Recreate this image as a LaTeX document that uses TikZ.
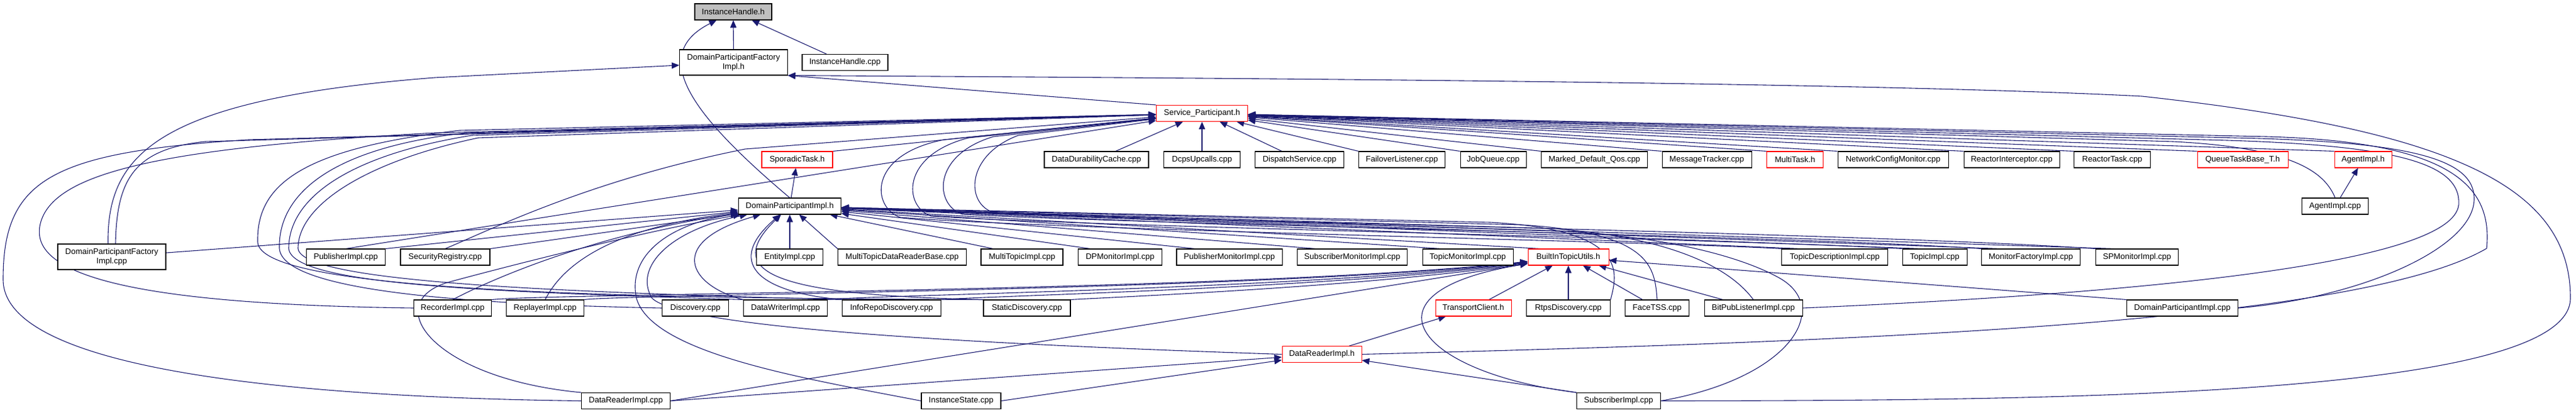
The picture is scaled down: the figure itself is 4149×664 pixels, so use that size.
\documentclass[tikz,border=0pt]{standalone}
\usepackage{fontspec}
\setmainfont{Liberation Sans}
\usetikzlibrary{arrows.meta}
\definecolor{edgeblue}{HTML}{191970}
\definecolor{rootgray}{HTML}{BFBFBF}
\pgfdeclarelayer{paper}
\pgfdeclarelayer{edges}
\pgfsetlayers{paper,edges,main}
\tikzset{
  filebox/.style={draw=black, line width=1.05pt, fill=white, minimum height=26pt, inner sep=0pt, align=center, font=\fontsize{13}{15}\selectfont},
  redbox/.style={filebox, draw=red},
  rootbox/.style={filebox, fill=rootgray},
  dep/.style={->, draw=edgeblue, line width=1.1pt}
}
\begin{document}
\begin{tikzpicture}[x=1pt, y=-1pt, >={Triangle[length=12pt,width=10pt]}]
\begin{pgfonlayer}{paper}
\fill[white] (0,0) rectangle (4149,664);
\end{pgfonlayer}
\useasboundingbox (0,0) rectangle (4149,664);

% headers and sources
\node[rootbox, minimum width=124pt] (ih) at (1181,19) {InstanceHandle.h};
\node[filebox, minimum width=174pt, minimum height=41pt] (dpfh) at (1181.5,100.5) {DomainParticipantFactory\\Impl.h};
\node[filebox, minimum width=138pt] (ihcpp) at (1361,100.5) {InstanceHandle.cpp};
\node[redbox, minimum width=147pt] (sph) at (1936,182.5) {Service\_Participant.h};

\node[redbox, minimum width=114pt] (spor) at (1284,257) {SporadicTask.h};
\node[filebox, minimum width=168pt] (ddc) at (1766,257) {DataDurabilityCache.cpp};
\node[filebox, minimum width=123pt] (dcps) at (1936,257) {DcpsUpcalls.cpp};
\node[filebox, minimum width=143pt] (disp) at (2093,257) {DispatchService.cpp};
\node[filebox, minimum width=139pt] (fail) at (2258,257) {FailoverListener.cpp};
\node[filebox, minimum width=106pt] (jobq) at (2405,257) {JobQueue.cpp};
\node[filebox, minimum width=171pt] (mdq) at (2568,257) {Marked\_Default\_Qos.cpp};
\node[filebox, minimum width=144pt] (mtr) at (2749,257) {MessageTracker.cpp};
\node[redbox, minimum width=91pt] (mtask) at (2891,257) {MultiTask.h};
\node[filebox, minimum width=178pt] (ncm) at (3049,257) {NetworkConfigMonitor.cpp};
\node[filebox, minimum width=154pt] (rint) at (3240,257) {ReactorInterceptor.cpp};
\node[filebox, minimum width=123pt] (rtask) at (3402,257) {ReactorTask.cpp};
\node[redbox, minimum width=146pt] (qtb) at (3612,257) {QueueTaskBase\_T.h};
\node[redbox, minimum width=92pt] (agh) at (3806,257) {AgentImpl.h};

\node[filebox, minimum width=165pt] (dph) at (1272,332) {DomainParticipantImpl.h};
\node[filebox, minimum width=107pt] (agcpp) at (3761,332) {AgentImpl.cpp};

\node[filebox, minimum width=174pt, minimum height=41pt] (dpfcpp) at (180,413.5) {DomainParticipantFactory\\Impl.cpp};
\node[filebox, minimum width=127pt] (pub) at (557,414) {PublisherImpl.cpp};
\node[filebox, minimum width=144pt] (sec) at (717,414) {SecurityRegistry.cpp};
\node[filebox, minimum width=107pt] (ent) at (1272,414) {EntityImpl.cpp};
\node[filebox, minimum width=207pt] (mtdrb) at (1453,414) {MultiTopicDataReaderBase.cpp};
\node[filebox, minimum width=132pt] (mti) at (1646,414) {MultiTopicImpl.cpp};
\node[filebox, minimum width=135pt] (dpm) at (1804,414) {DPMonitorImpl.cpp};
\node[filebox, minimum width=170pt] (pubm) at (1980,414) {PublisherMonitorImpl.cpp};
\node[filebox, minimum width=177pt] (subm) at (2178,414) {SubscriberMonitorImpl.cpp};
\node[filebox, minimum width=146pt] (topm) at (2364,414) {TopicMonitorImpl.cpp};
\node[redbox, minimum width=130pt] (bitu) at (2526,414) {BuiltInTopicUtils.h};
\node[filebox, minimum width=171pt] (tdi) at (2955,414) {TopicDescriptionImpl.cpp};
\node[filebox, minimum width=104pt] (topi) at (3116,414) {TopicImpl.cpp};
\node[filebox, minimum width=159pt] (mfi) at (3271,414) {MonitorFactoryImpl.cpp};
\node[filebox, minimum width=133pt] (spm) at (3442,414) {SPMonitorImpl.cpp};

\node[filebox, minimum width=125pt] (rec) at (729,496) {RecorderImpl.cpp};
\node[filebox, minimum width=125pt] (rep) at (878,496) {ReplayerImpl.cpp};
\node[filebox, minimum width=107pt] (disc) at (1120,496) {Discovery.cpp};
\node[filebox, minimum width=135pt] (dwi) at (1265,496) {DataWriterImpl.cpp};
\node[filebox, minimum width=159pt] (ird) at (1436,496) {InfoRepoDiscovery.cpp};
\node[filebox, minimum width=140pt] (sdisc) at (1654,496) {StaticDiscovery.cpp};
\node[redbox, minimum width=122pt] (tcl) at (2373,496) {TransportClient.h};
\node[filebox, minimum width=135pt] (rtps) at (2526,496) {RtpsDiscovery.cpp};
\node[filebox, minimum width=103pt] (face) at (2669,496) {FaceTSS.cpp};
\node[filebox, minimum width=158pt] (bpl) at (2824,496) {BitPubListenerImpl.cpp};
\node[filebox, minimum width=179pt] (dpcpp) at (3515,496) {DomainParticipantImpl.cpp};

\node[redbox, minimum width=128pt] (drh) at (2129,570.5) {DataReaderImpl.h};

\node[filebox, minimum width=143pt] (drcpp) at (1008,645.5) {DataReaderImpl.cpp};
\node[filebox, minimum width=128pt] (ist) at (1548,645.5) {InstanceState.cpp};
\node[filebox, minimum width=135pt] (subcpp) at (2607,645.5) {SubscriberImpl.cpp};

\begin{pgfonlayer}{edges}
% into InstanceHandle.h
\draw[dep] (dpfh) -- (ih);
\draw[dep] (ihcpp) -- (ih);
\draw[dep] (dph.north) .. controls (1120,190) and (1040,90) .. (ih);

% into DomainParticipantFactoryImpl.h
\draw[dep] (sph.north west) -- (dpfh.south east);
\draw[dep] (subcpp.east) .. controls (3300,645) and (4140,640) .. (4140,480) .. controls (4140,300) and (3950,210) .. (3450,155) .. controls (3000,132) and (2000,126) .. (dpfh.south east);
\draw[dep] ([xshift=-6pt]dpfcpp.north) .. controls (172,250) and (250,160) .. (700,125) -- (dpfh);

% into Service_Participant.h
\draw[dep] (ddc) -- (sph);
\draw[dep] (dcps) -- (sph);
\draw[dep] (disp) -- (sph);
\draw[dep] (fail.north west) -- (sph);
\draw[dep] (jobq.north west) -- (sph);
\draw[dep] (mdq.north west) -- (sph);
\draw[dep] (mtr.north west) -- (sph);
\draw[dep] (mtask.north west) -- (sph);
\draw[dep] (ncm.north west) -- (sph);
\draw[dep] (rint.north west) -- (sph);
\draw[dep] (rtask.north west) -- (sph);
\draw[dep] (qtb.north west) -- (sph);
\draw[dep] (agh.north west) -- (sph);
\draw[dep] (spor.north east) -- (sph);
\draw[dep] (agcpp.north) .. controls (3745,280) and (3700,238) .. (3500,228) -- (sph);
\draw[dep] ([xshift=6pt]dpfcpp.north) .. controls (188,290) and (215,240) .. (330,228) -- (sph);
\draw[dep] (pub.north) -- (sph);
\draw[dep] (sec.north) .. controls (790,370) and (950,290) .. (1200,240) -- (sph);
\draw[dep] (rec.west) .. controls (200,490) and (45,440) .. (65,360) .. controls (85,280) and (250,238) .. (700,214) -- (sph);
\draw[dep] (disc.west) .. controls (760,490) and (455,470) .. (450,400) .. controls (448,320) and (520,240) .. (750,214) -- (sph);
\draw[dep] (dwi.north west) .. controls (800,470) and (470,460) .. (465,400) .. controls (465,320) and (560,250) .. (760,218) -- (sph);
\draw[dep] (ird.north west) .. controls (900,470) and (485,455) .. (480,400) .. controls (480,330) and (590,260) .. (770,222) -- (sph);
\draw[dep] (sdisc.north west) .. controls (1000,480) and (420,470) .. (415,390) .. controls (413,300) and (480,240) .. (740,210) -- (sph);
\draw[dep] (drcpp.west) .. controls (500,640) and (5,600) .. (5,450) .. controls (5,290) and (80,245) .. (400,225) -- (sph);
\draw[dep] (tdi.north west) .. controls (2700,390) and (1700,370) .. (1450,350) .. controls (1405,335) and (1395,250) .. (1520,225) -- (sph);
\draw[dep] (topi.north west) .. controls (2800,385) and (1750,365) .. (1500,348) .. controls (1455,333) and (1450,250) .. (1560,222) -- (sph);
\draw[dep] (mfi.north west) .. controls (2900,380) and (1800,360) .. (1550,345) .. controls (1505,330) and (1500,250) .. (1600,220) -- (sph);
\draw[dep] (spm.north west) .. controls (3000,375) and (1850,355) .. (1600,342) .. controls (1555,328) and (1555,250) .. (1640,218) -- (sph);
\draw[dep] (bpl.east) .. controls (3500,470) and (3950,420) .. (3960,330) .. controls (3965,260) and (3850,232) .. (3550,225) -- (sph);
\draw[dep] (dpcpp.east) .. controls (3800,480) and (3985,400) .. (3985,320) .. controls (3985,255) and (3880,228) .. (3600,222) -- (sph);
\draw[dep] (drh.east) .. controls (3000,550) and (3800,520) .. (4005,400) .. controls (4015,300) and (3950,228) .. (3650,220) -- (sph);

% into SporadicTask.h and AgentImpl.h
\draw[dep] (dph) -- (spor);
\draw[dep] (agcpp) -- (agh);

% into DomainParticipantImpl.h
\draw[dep] (dpfcpp) -- (dph);
\draw[dep] (pub.north east) -- (dph);
\draw[dep] (sec.north east) -- (dph);
\draw[dep] (rec.north) .. controls (830,430) and (1000,370) .. (dph);
\draw[dep] (rep.north) .. controls (900,440) and (960,370) .. (dph);
\draw[dep] (dwi.north west) .. controls (1110,460) and (1070,390) .. (dph);
\draw[dep] (ird.north west) .. controls (1215,470) and (1170,420) .. (dph);
\draw[dep] (sdisc.north west) .. controls (1250,475) and (1160,440) .. (dph);
\draw[dep] (ent) -- (dph);
\draw[dep] (mtdrb.north west) -- (dph);
\draw[dep] ([xshift=20pt]mti.north west) -- (dph);
\draw[dep] ([xshift=20pt]dpm.north west) -- (dph);
\draw[dep] ([xshift=30pt]pubm.north west) -- (dph);
\draw[dep] ([xshift=30pt]subm.north west) -- (dph);
\draw[dep] ([xshift=30pt]topm.north west) -- (dph);
\draw[dep] ([xshift=20pt]bitu.north west) -- (dph);
\draw[dep] ([xshift=30pt]tdi.north west) -- (dph);
\draw[dep] ([xshift=30pt]topi.north west) -- (dph);
\draw[dep] ([xshift=30pt]mfi.north west) -- (dph);
\draw[dep] ([xshift=30pt]spm.north west) -- (dph);
\draw[dep] (rtps.north east) .. controls (2605,440) and (2625,370) .. (2400,358) -- (dph);
\draw[dep] (face.north) .. controls (2665,430) and (2660,375) .. (2450,362) -- (dph);
\draw[dep] (bpl.north) .. controls (2800,450) and (2730,385) .. (2500,368) -- (dph);
\draw[dep] (drh.west) .. controls (1600,555) and (1100,530) .. (1050,480) .. controls (1020,430) and (1080,370) .. (dph);
\draw[dep] (ist.west) .. controls (1300,610) and (1050,570) .. (1025,480) .. controls (1010,410) and (1080,360) .. (dph);
\draw[dep] (drcpp.north west) .. controls (700,610) and (610,490) .. (720,455) .. controls (850,420) and (1050,370) .. (dph);
\draw[dep] (subcpp.east) .. controls (2880,610) and (2950,500) .. (2870,450) .. controls (2820,420) and (2700,380) .. (2500,372) -- (dph);

% into BuiltInTopicUtils.h
\draw[dep] (tcl) -- (bitu);
\draw[dep] (rtps) -- (bitu);
\draw[dep] (face) -- (bitu);
\draw[dep] (bpl) -- (bitu);
\draw[dep] (dpcpp.north west) -- (bitu);
\draw[dep] (subcpp.north west) .. controls (2280,600) and (2180,470) .. (bitu);
\draw[dep] (drcpp.east) -- (bitu);
\draw[dep] (rec.north east) .. controls (900,472) and (2000,470) .. (bitu);
\draw[dep] (rep.north east) .. controls (1000,474) and (2050,468) .. (bitu);
\draw[dep] (dwi.north east) .. controls (1400,475) and (2100,466) .. (bitu);
\draw[dep] (ird.north east) .. controls (1600,476) and (2150,464) .. (bitu);
\draw[dep] (sdisc.north east) .. controls (1800,478) and (2200,462) .. (bitu);

% into TransportClient.h and DataReaderImpl.h
\draw[dep] (drh) -- (tcl);
\draw[dep] (drcpp.east) -- (drh);
\draw[dep] (ist.east) -- (drh);
\draw[dep] (subcpp.north west) -- (drh);
\end{pgfonlayer}
\end{tikzpicture}
\end{document}
